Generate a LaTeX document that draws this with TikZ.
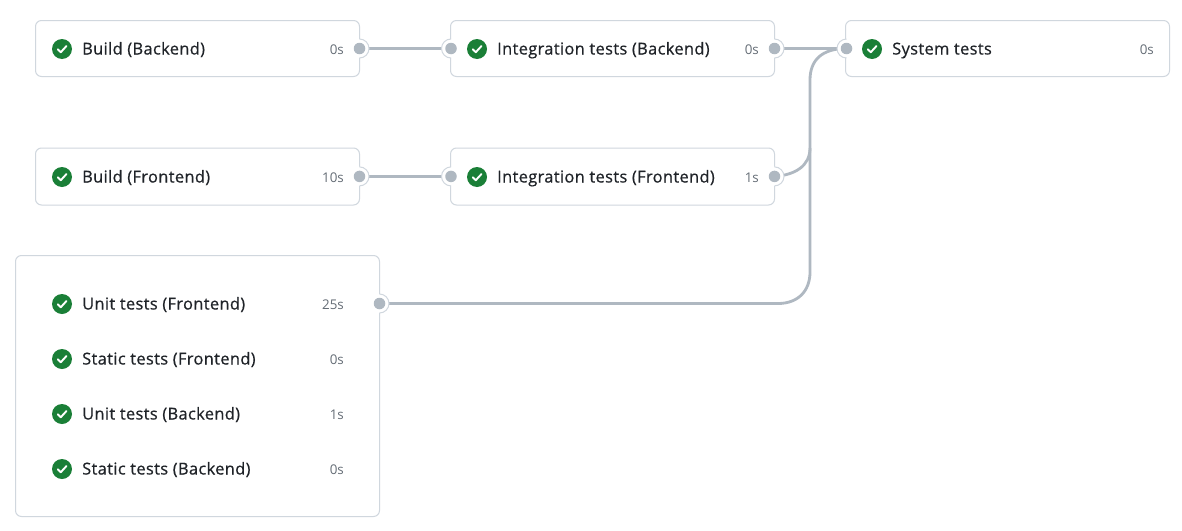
\documentclass[tikz,border=0pt]{standalone}
\usepackage{fontspec}
\setmainfont{Open Sans}
\newfontfamily\jobfont[FakeBold=0.6,LetterSpace=2.2]{Open Sans}
\definecolor{ghborder}{HTML}{D0D7DE}
\definecolor{ghline}{HTML}{AFB8C1}
\definecolor{ghgreen}{HTML}{1A7F37}
\definecolor{ghtext}{HTML}{1F2328}
\definecolor{ghmuted}{HTML}{656D76}
\tikzset{
  x=1pt,y=-1pt,
  card/.style={draw=ghborder,line width=1pt,rounded corners=6pt,fill=white,inner sep=0pt,anchor=north west},
  job/.style={anchor=base west,inner sep=0pt,text=ghtext,font=\jobfont\fontsize{16.4}{18}\selectfont},
  dur/.style={anchor=base east,inner sep=0pt,text=ghmuted,font=\fontsize{13.4}{15}\selectfont},
  ok/.style={circle,fill=ghgreen,minimum size=20pt,inner sep=0pt},
  ring/.style={circle,fill=white,minimum size=19pt,inner sep=0pt},
  dot/.style={circle,fill=ghline,minimum size=11.5pt,inner sep=0pt},
  link/.style={draw=ghline,line width=2.8pt},
  tick/.style={draw=white,line width=1.9pt,line cap=round,line join=round},
  ringedge/.style={draw=ghborder,line width=1pt}
}
\newcommand{\jobrow}[6]{% name, icon x, y, title, duration, duration right x
  \node[ok] (#1i) at (#2,#3) {};
  \draw[tick] ([shift={(-4.2,0.3)}]#1i.center) -- ([shift={(-1.2,3.2)}]#1i.center) -- ([shift={(4.4,-2.9)}]#1i.center);
  \node[job] (#1t) at (#2+20,#3+5.5) {#4};
  \node[dur] (#1d) at (#6,#3+5) {#5};
}
\begin{document}
\begin{tikzpicture}
\useasboundingbox (0,0) rectangle (1182,530);
\fill[white] (0,0) rectangle (1182,530);
% cards
\node[card,minimum width=324pt,minimum height=56pt] (c1) at (35,20) {};
\node[card,minimum width=324pt,minimum height=56pt] (c2) at (450,20) {};
\node[card,minimum width=324pt,minimum height=56pt] (c3) at (845,20) {};
\node[card,minimum width=324pt,minimum height=57pt] (c4) at (35,147.5) {};
\node[card,minimum width=324pt,minimum height=57pt] (c5) at (450,147.5) {};
\node[card,minimum width=364pt,minimum height=261pt] (c6) at (15,255) {};
% rows
\jobrow{a}{62}{49}{Build (Backend)}{0s}{344}
\jobrow{b}{477}{49}{Integration tests (Backend)}{0s}{759}
\jobrow{c}{872}{49}{System tests}{0s}{1154}
\jobrow{d}{62}{177}{Build (Frontend)}{10s}{344}
\jobrow{e}{477}{177}{Integration tests (Frontend)}{1s}{759}
\jobrow{f}{62}{304}{Unit tests (Frontend)}{25s}{344}
\jobrow{g}{62}{359}{Static tests (Frontend)}{0s}{344}
\jobrow{h}{62}{414}{Unit tests (Backend)}{1s}{344}
\jobrow{i}{62}{469}{Static tests (Backend)}{0s}{344}
% ports
\node[ring] (p1r) at (359.5,48.5) {};
\node[ring] (p2l) at (451,48.5) {};
\node[ring] (p2r) at (774.5,48.5) {};
\node[ring] (p3l) at (846.5,48.5) {};
\node[ring] (p4r) at (359.5,176.4) {};
\node[ring] (p5l) at (451,176.4) {};
\node[ring] (p5r) at (774.5,176.4) {};
\node[ring] (p6r) at (379.5,303.5) {};
% connectors
\draw[link] (p1r.center) -- (p2l.center);
\draw[link] (p2r.center) -- (p3l.center);
\draw[link] (p4r.center) -- (p5l.center);
\draw[link] (p5r.center) .. controls (795,175) and (810,166) .. (810,148);
\draw[link] (p6r.center) -- (778,303.5) .. controls (798,303.5) and (810,291) .. (810,272)
  -- (810,80) .. controls (810,60) and (822,48.5) .. (p3l.center);
% port discs: white over the card edge and link end, edge only on the outer side
\foreach \p in {p1r,p2r,p4r,p5r,p6r}{
  \fill[white] (\p.center) circle (9.5pt);
  \draw[ringedge] ([shift={(0,-9.5)}]\p.center) arc[start angle=90,end angle=-90,radius=9.5pt];
  \node[dot] at (\p.center) {};
}
\foreach \p in {p2l,p3l,p5l}{
  \fill[white] (\p.center) circle (9.5pt);
  \draw[ringedge] ([shift={(0,-9.5)}]\p.center) arc[start angle=90,end angle=270,radius=9.5pt];
  \node[dot] at (\p.center) {};
}
\end{tikzpicture}
\end{document}
